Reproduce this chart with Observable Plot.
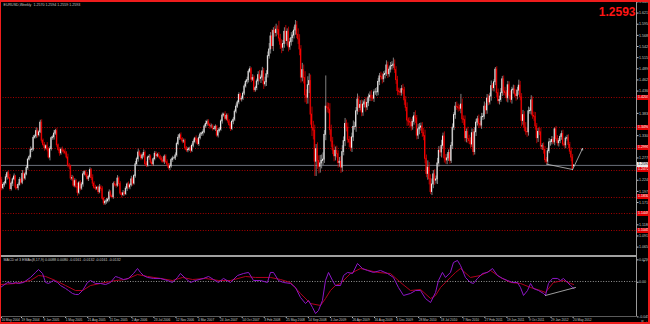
<!DOCTYPE html>
<html><head><meta charset="utf-8">
<script src="https://cdn.jsdelivr.net/npm/d3@7"></script>
<script src="https://cdn.jsdelivr.net/npm/@observablehq/plot@0.6"></script>
<style>
html,body{margin:0;padding:0;background:#000;}
#wrap{position:relative;width:650px;height:324px;background:#000;overflow:hidden;font-family:"Liberation Sans",Arial,sans-serif;}
#main{position:absolute;left:0;top:0;}
#macd{position:absolute;left:0;top:256px;}
.frame{position:absolute;left:0;top:0;width:650px;height:324px;box-sizing:border-box;border-style:solid;border-color:#ee1c1c;border-width:2px 2px 2px 1.5px;pointer-events:none;}
.sep{position:absolute;background:#a0a0a0;}
.box{position:absolute;left:637px;width:12px;height:5px;font-size:3.6px;line-height:5px;padding-left:1px;box-sizing:border-box;white-space:nowrap;}
</style></head>
<body>
<div id="wrap">
  <div id="main"></div>
  <div id="macd"></div>
  <div class="sep" style="left:0;top:255px;width:637px;height:1.6px;"></div>
  <div class="sep" style="left:636px;top:0;width:1px;height:316px;background:#9a9a9a;"></div>
  <div class="sep" style="left:0;top:316px;width:637px;height:1px;background:#5a5a5a;"></div>
  <div class="frame"></div>
</div>
<script>
// ---------- DATA ----------
const headerText = "EURUSD,Weekly  1.2570 1.2594 1.2559 1.2593";
const currentOHLC = [1.2570, 1.2594, 1.2559, 1.2593];
const bidText = "1.2593";
const macdTitle = "MACD of 3 EMAs(8,17,9) 0.0088 0.0080 -0.0161 -0.0132 -0.0161 -0.0132";
const firstOpen = 1.1990;

const c2004 = [1.2010,1.2190,1.2170,1.2240,1.2050,1.2130,1.2170,1.2310,1.2410,1.2290,1.2030,1.2160,1.2260,1.2330,1.2060,1.2050,1.2130,1.2250,1.2180,1.2390,1.2280,1.2380,1.2530,1.2730,1.2790,1.2960,1.2970,1.3250,1.3280,1.3410,1.3310,1.3380,1.3610];
const c2005 = [1.3180,1.3080,1.3000,1.3050,1.2970,1.2780,1.2980,1.3240,1.3260,1.3350,1.3410,1.3070,1.2960,1.2880,1.2960,1.2940,1.2920,1.2880,1.2780,1.2590,1.2570,1.2280,1.2290,1.2110,1.2220,1.2080,1.1940,1.2170,1.2040,1.2140,1.2380,1.2430,1.2360,1.2270,1.2320,1.2480,1.2290,1.2160,1.2060,1.2040,1.2060,1.1960,1.2070,1.2030,1.1800,1.1690,1.1730,1.1740,1.1780,1.1950,1.1860,1.1840];
const c2006 = [1.2150,1.2120,1.2110,1.2280,1.2150,1.1920,1.1890,1.1930,1.1910,1.2040,1.2140,1.2070,1.2120,1.2260,1.2160,1.2340,1.2620,1.2740,1.2900,1.2830,1.2760,1.2830,1.2890,1.2620,1.2590,1.2780,1.2800,1.2660,1.2620,1.2740,1.2870,1.2810,1.2840,1.2800,1.2750,1.2710,1.2680,1.2800,1.2670,1.2610,1.2530,1.2570,1.2720,1.2760,1.2760,1.2830,1.3100,1.3250,1.3310,1.3220,1.3160,1.3170,1.3000];
const c2007 = [1.2950,1.2960,1.2990,1.2940,1.3060,1.3150,1.3230,1.3190,1.3100,1.3240,1.3330,1.3350,1.3380,1.3520,1.3580,1.3630,1.3560,1.3520,1.3520,1.3460,1.3460,1.3510,1.3300,1.3410,1.3440,1.3640,1.3780,1.3800,1.3700,1.3770,1.3640,1.3550,1.3460,1.3630,1.3680,1.3870,1.3990,1.4090,1.4270,1.4160,1.4180,1.4300,1.4470,1.4580,1.4620,1.4820,1.4880,1.4630,1.4670,1.4380,1.4430,1.4590];
const c2008 = [1.4740,1.4650,1.4680,1.4830,1.4520,1.4570,1.4760,1.5190,1.5350,1.5660,1.5430,1.5790,1.5740,1.5820,1.5810,1.5610,1.5460,1.5390,1.5480,1.5770,1.5550,1.5770,1.5400,1.5520,1.5620,1.5680,1.5800,1.5920,1.5700,1.5590,1.5350,1.4680,1.4860,1.4670,1.4260,1.4200,1.4500,1.4600,1.3800,1.3480,1.3420,1.2680,1.2980,1.2700,1.2560,1.2640,1.2700,1.2730,1.3320,1.3990,1.3960,1.3920];
const c2009 = [1.3430,1.3160,1.2950,1.2810,1.2940,1.2860,1.2650,1.2680,1.2540,1.2910,1.3170,1.3580,1.3490,1.3200,1.3140,1.3010,1.3260,1.3510,1.3510,1.3880,1.4160,1.3960,1.4030,1.3850,1.4040,1.4090,1.3970,1.4080,1.4210,1.4250,1.4190,1.4180,1.4330,1.4330,1.4330,1.4580,1.4710,1.4690,1.4640,1.4740,1.4770,1.4970,1.4760,1.4870,1.4950,1.4960,1.4990,1.4860,1.4620,1.4360,1.4340,1.4320];
const c2010 = [1.4410,1.4380,1.4140,1.3960,1.3660,1.3630,1.3610,1.3520,1.3630,1.3760,1.3710,1.3300,1.3450,1.3490,1.3520,1.3360,1.3290,1.2750,1.2390,1.2540,1.2270,1.1960,1.2140,1.2380,1.2230,1.2260,1.2640,1.2940,1.2900,1.3060,1.3280,1.2760,1.2710,1.2760,1.2890,1.2700,1.3060,1.3490,1.3790,1.3990,1.3980,1.3950,1.3940,1.4040,1.3690,1.3670,1.3240,1.3390,1.3220,1.3170,1.3090,1.3360];
const c2011 = [1.2910,1.3380,1.3610,1.3690,1.3580,1.3540,1.3740,1.3750,1.3990,1.3900,1.4180,1.4090,1.4230,1.4480,1.4430,1.4570,1.4870,1.4310,1.4120,1.4150,1.4310,1.4640,1.4350,1.4310,1.4190,1.4500,1.4250,1.4150,1.4380,1.4400,1.4280,1.4240,1.4370,1.4490,1.4210,1.3650,1.3790,1.3490,1.3390,1.3380,1.3880,1.3890,1.4140,1.3770,1.3750,1.3520,1.3240,1.3390,1.3380,1.3040,1.3050,1.2960];
const c2012 = [1.2720,1.2680,1.2930,1.3140,1.3150,1.3200,1.3140,1.3450,1.3220,1.3120,1.3170,1.3270,1.3340,1.3090,1.3070,1.3230,1.3240,1.3080,1.2920,1.2780,1.2510,1.2593];

// wick lengths above / below the body, in pips
const wickUp = [
60,45,80,35,70,50,40,65,30,55,90,40,35,60,25,70,45,55,30,80,50,40,65,35,45,70,30,55,40,75,60,45,57,
70,40,55,30,85,45,60,35,50,75,40,65,30,55,45,70,35,60,40,80,50,30,65,45,55,35,90,40,60,50,70,30,45,65,40,55,35,80,45,60,30,50,70,40,55,35,45,65,30,60,40,50,
45,60,35,70,40,55,30,65,45,50,35,60,40,75,50,35,65,45,80,40,55,30,70,45,60,35,50,40,65,30,55,45,40,60,35,50,70,40,45,55,30,65,40,50,35,60,45,70,40,55,35,50,45,
40,55,35,60,45,50,30,65,40,55,45,35,60,40,70,45,50,35,55,40,65,45,30,60,50,40,55,35,70,45,50,40,60,35,55,45,65,40,50,35,60,45,55,40,70,45,60,35,80,50,45,55,
80,110,60,95,70,120,85,100,140,90,160,75,110,130,90,209,100,120,80,95,150,70,110,90,130,100,80,118,95,140,110,90,160,120,150,130,200,170,140,180,160,130,110,150,120,190,140,160,100,730,90,110,
140,120,100,130,90,110,80,100,120,150,100,130,90,110,80,120,100,140,110,90,130,80,100,120,90,70,110,100,80,90,120,70,60,90,110,80,70,100,90,80,70,110,80,60,90,100,154,110,80,90,70,60,
80,110,70,90,120,60,100,80,110,90,130,70,120,100,80,90,110,140,90,160,120,100,130,90,110,80,120,100,90,130,80,110,90,100,70,120,80,90,60,100,110,70,70,242,130,80,100,70,110,90,80,100,
90,110,80,70,100,60,90,80,110,70,100,90,80,120,60,60,50,70,100,90,110,70,80,100,60,90,80,110,70,100,90,120,80,130,100,90,110,80,120,90,100,70,110,80,90,100,70,80,110,90,60,80,
80,60,70,90,50,80,60,36,70,80,60,50,70,90,60,40,70,80,60,90,70,1];
const wickDn = [
50,40,70,45,60,35,55,40,65,30,50,45,70,35,55,40,60,30,50,45,65,40,35,55,30,45,60,40,35,50,65,40,30,
60,45,70,40,55,35,80,45,50,65,40,55,35,70,45,50,60,40,35,55,70,45,60,40,50,35,80,45,55,40,65,35,50,45,60,40,55,70,35,50,45,60,40,55,35,50,45,60,40,55,35,45,
50,40,60,35,55,45,70,40,50,35,65,45,55,40,60,35,50,45,70,40,55,35,60,45,50,40,65,35,55,45,40,60,35,50,45,55,40,65,35,50,45,60,40,55,35,50,45,40,60,35,55,45,50,
45,55,35,60,40,50,45,65,35,55,40,50,60,35,45,55,40,70,45,50,35,60,40,55,45,35,65,40,50,45,55,35,60,40,70,45,50,40,55,35,60,45,50,40,55,65,45,70,40,55,45,60,
90,70,110,80,120,60,100,90,70,110,80,130,100,90,120,80,110,140,90,100,80,120,110,70,90,100,80,110,90,120,150,130,100,140,180,160,150,200,250,200,220,350,350,200,170,150,130,110,90,140,120,100,
120,140,100,130,110,90,120,100,140,110,90,130,100,80,120,90,110,100,80,130,90,110,70,100,90,80,110,70,90,100,80,60,90,70,100,80,90,70,110,80,90,60,100,70,80,90,60,80,100,110,90,80,
80,100,120,90,140,100,130,110,90,80,120,100,90,130,80,100,110,120,90,150,140,60,84,100,110,80,120,90,100,130,80,110,90,100,70,80,60,90,70,100,80,90,60,120,100,130,90,110,100,80,90,70,
90,70,100,80,110,60,90,80,70,100,90,80,60,110,70,90,80,100,70,90,60,80,100,70,90,110,80,70,100,90,80,120,90,110,80,140,100,90,80,120,90,70,100,80,110,90,130,100,80,70,90,100,
70,56,80,60,90,70,50,80,60,70,90,60,80,50,70,80,60,90,70,100,15,0];

const levels = [1.4207, 1.3494, 1.2995, 1.2472, 1.1830, 1.1449, 1.1045];
const bidPrice = 1.2593;
const priceTicks = [1.6480,1.6215,1.5950,1.5685,1.5420,1.5155,1.4890,1.4625,1.4360,1.4095,1.3830,1.3565,1.3300,1.3035,1.2770,1.2505,1.2240,1.1975,1.1710,1.1445,1.1180,1.0915,1.0650];

const trendWeeks = [399, 418];
const trendPrices = [1.2624, 1.2495];
const projWeeks = [418, 425.2];
const projPrices = [1.2495, 1.2995];

const macdWeeks = [3.1,8.2,11.8,14.0,16.2,19.8,24.9,28.5,30.7,33.6,35.8,37.9,41.6,44.5,46.6,50.3,52.4,55.3,57.5,59.7,62.6,66.2,68.4,72.0,75.6,79.3,82.9,86.5,88.7,92.3,95.9,99.6,102.5,104.6,106.8,109.7,114.1,119.1,124.2,127.8,131.5,133.6,137.3,140.9,144.5,150.3,154.0,157.6,161.2,164.8,169.9,175.0,179.3,183.0,186.6,191.7,196.7,198.9,201.1,204.7,208.3,213.4,217.0,220.7,224.3,226.5,229.4,231.6,233.7,236.6,238.8,241.0,243.9,246.0,249.7,251.9,254.8,258.4,262.0,265.6,269.3,273.6,278.7,283.8,288.1,291.7,295.4,300.4,304.1,307.7,311.3,315.0,318.6,320.7,323.6,325.8,329.4,331.6,334.5,336.7,340.3,343.9,346.1,349.0,352.6,356.3,359.9,363.5,367.2,370.8,374.4,378.0,380.2,382.4,385.3,387.5,389.6,393.3,396.9,398.3,400.5,403.4,407.0,409.2,411.4,414.3,416.5,418.0,419];
const macdValues = [-0.0079,-0.0013,-0.0026,-0.0013,-0.0026,-0.0013,0.0053,0.0119,0.0158,0.0105,-0.0013,-0.0026,0.0013,-0.0013,-0.0053,-0.0092,-0.0119,-0.0158,-0.0171,-0.0171,-0.0119,-0.0013,0.0013,-0.0026,-0.0026,-0.0040,-0.0013,0.0066,0.0053,0.0026,0.0040,0.0105,0.0171,0.0119,0.0079,0.0053,0.0040,0.0040,0.0013,-0.0013,0.0053,0.0105,0.0040,-0.0013,0.0013,0.0040,0.0066,0.0026,-0.0013,0.0040,-0.0013,0.0079,0.0105,0.0119,0.0013,0.0013,-0.0013,0.0119,0.0119,0.0013,-0.0013,-0.0026,-0.0079,-0.0211,-0.0290,-0.0250,-0.0343,-0.0422,-0.0382,-0.0250,0.0013,0.0119,0.0013,-0.0053,-0.0053,0.0079,0.0119,0.0105,0.0237,0.0171,0.0145,0.0119,0.0145,0.0105,0.0053,-0.0079,-0.0184,-0.0158,-0.0119,-0.0119,-0.0224,-0.0277,-0.0145,0.0013,0.0119,0.0053,0.0119,0.0250,0.0277,0.0211,0.0053,-0.0013,-0.0026,0.0040,0.0105,0.0119,0.0171,0.0079,0.0040,0.0013,-0.0013,-0.0013,-0.0079,-0.0184,-0.0119,-0.0026,-0.0092,-0.0119,-0.0158,-0.0184,-0.0026,0.0040,0.0040,0.0013,0.0040,-0.0013,-0.0053,-0.0079,-0.0092];
const signalWeeks = [3.1,14.0,24.9,30.7,35.8,43.0,50.3,57.5,62.6,68.4,75.6,86.5,93.8,102.5,109.7,119.1,127.8,135.1,142.4,151.8,161.2,169.9,180.8,188.0,198.9,206.2,213.4,220.7,227.9,235.2,238.8,242.4,246.0,249.7,256.9,264.2,276.5,285.9,293.2,300.4,307.7,315.0,318.6,322.2,325.8,329.4,333.1,336.7,343.9,351.2,358.5,365.7,373.0,380.2,387.5,394.7,398.3,404.1,411.4,416.5,418.7];
const signalValues = [-0.0040,-0.0026,0.0013,0.0079,0.0066,0.0013,-0.0053,-0.0119,-0.0119,-0.0053,-0.0026,0.0013,0.0026,0.0092,0.0066,0.0040,0.0013,0.0053,0.0026,0.0040,0.0013,0.0013,0.0066,0.0053,0.0053,0.0026,-0.0013,-0.0158,-0.0290,-0.0316,-0.0224,-0.0119,-0.0053,-0.0026,0.0105,0.0171,0.0119,0.0105,-0.0013,-0.0119,-0.0105,-0.0224,-0.0184,-0.0079,-0.0013,0.0053,0.0119,0.0171,0.0053,0.0079,0.0145,0.0053,-0.0013,-0.0026,-0.0079,-0.0119,-0.0145,-0.0013,0.0013,-0.0026,-0.0040];
const macdTrendWeeks = [398.3, 420.1];
const macdTrendValues = [-0.0184, -0.0079];
const macdTicks = [0.0295, 0, -0.0456];
const macdTickLabels = ["0.0295", "0.00", "-0.0456"];

const dateTickWeeks = [0,18,34,50,66,82,98,114,130,146,162,178,194,210,226,242,258,274,290,306,322,338,354,370,386,402,418];
const dateLabels = ["16 May 2004","19 Sep 2004","9 Jan 2005","1 May 2005","21 Aug 2005","11 Dec 2005","2 Apr 2006","23 Jul 2006","12 Nov 2006","4 Mar 2007","24 Jun 2007","14 Oct 2007","3 Feb 2008","25 May 2008","14 Sep 2008","4 Jan 2009","26 Apr 2009","16 Aug 2009","6 Dec 2009","28 Mar 2010","18 Jul 2010","7 Nov 2010","27 Feb 2011","19 Jun 2011","9 Oct 2011","29 Jan 2012","20 May 2012"];

// ---------- BUILD ----------
const FONT = '"Liberation Sans", Arial, sans-serif';
const closes = [...c2004, ...c2005, ...c2006, ...c2007, ...c2008, ...c2009, ...c2010, ...c2011, ...c2012];
const last = closes.length - 1;
const bars = closes.map((c, i) => {
  if (i === last) {
    const [o, h, l, cl] = currentOHLC;
    return {i, o, c: cl, hi: h, lo: l, up: cl >= o};
  }
  const o = i === 0 ? firstOpen : closes[i - 1];
  return {i, o, c, hi: Math.max(o, c) + (wickUp[i] ?? 50) / 10000, lo: Math.min(o, c) - (wickDn[i] ?? 50) / 10000, up: c >= o};
});
const xDomain = [3.118, 464.33];
const yDomain = [1.0427, 1.6514];
const style = {background: "transparent", color: "#c8c8c8", fontFamily: FONT};

// the axis labels that sit under a price box are hidden by that box, as in the terminal
const boxed = [...levels, bidPrice];
const pxPerUnit = 256 / (yDomain[1] - yDomain[0]);
const visibleTicks = priceTicks.filter(t => boxed.every(b => Math.abs(t - b) * pxPerUnit > 5));

const trend = trendWeeks.map((w, k) => ({w, p: trendPrices[k]}));
const proj = [{x1: projWeeks[0], y1: projPrices[0], x2: projWeeks[1], y2: projPrices[1]}];

const main = Plot.plot({
  width: 650, height: 256, marginTop: 0, marginBottom: 0, marginLeft: 0, marginRight: 14,
  style,
  x: {domain: xDomain, axis: null},
  y: {domain: yDomain, axis: null},
  marks: [
    Plot.ruleY(levels, {stroke: "#a80000", strokeWidth: 1, strokeDasharray: "1,1.6"}),
    Plot.ruleY([bidPrice], {stroke: "#6a6f7a", strokeWidth: 1}),
    Plot.ruleX(bars, {x: "i", y1: "lo", y2: "hi", stroke: d => d.up ? "#a0a0a0" : "#d80000", strokeWidth: 0.8}),
    Plot.rect(bars, {x1: d => d.i - 0.37, x2: d => d.i + 0.37, y1: "o", y2: "c", fill: d => d.up ? "#f0f0f0" : "#ff0000", insetTop: -0.4, insetBottom: -0.4}),
    Plot.line(trend, {x: "w", y: "p", stroke: "#c4c4c4", strokeWidth: 0.8}),
    Plot.arrow(proj, {x1: "x1", y1: "y1", x2: "x2", y2: "y2", stroke: "#c4c4c4", strokeWidth: 0.8, headLength: 3}),
    Plot.axisY(visibleTicks, {anchor: "right", tickSize: 1.5, tickPadding: 1, fontSize: 3.6, tickFormat: d => d.toFixed(4)}),
    Plot.text([headerText], {text: d => d, frameAnchor: "top-left", dx: 3, dy: 3.3, fontSize: 3.6, fill: "#c8c8c8"}),
    Plot.text([bidText], {text: d => d, frameAnchor: "top-right", dx: -1, dy: 6.5, fontSize: 12, fontWeight: "bold", fill: "#ff1414"})
  ]
});
document.getElementById("main").appendChild(main);

const macdPts = macdWeeks.map((w, k) => ({w, v: macdValues[k]}));
const sigPts = signalWeeks.map((w, k) => ({w, v: signalValues[k]}));
const mTrend = macdTrendWeeks.map((w, k) => ({w, v: macdTrendValues[k]}));
const tickPos = dateTickWeeks.map(w => Math.max(w, xDomain[0] + 0.3));
const labelAt = new Map(tickPos.map((p, k) => [p, dateLabels[k]]));

const macd = Plot.plot({
  width: 650, height: 68, marginTop: 0, marginBottom: 8, marginLeft: 0, marginRight: 14,
  style,
  x: {domain: xDomain, axis: null},
  y: {domain: [-0.0461, 0.0329], axis: null},
  marks: [
    Plot.ruleY([0], {stroke: "#bdbdbd", strokeWidth: 0.8, strokeDasharray: "1,1.6"}),
    Plot.line(sigPts, {x: "w", y: "v", stroke: "#b0001e", strokeWidth: 1}),
    Plot.line(macdPts, {x: "w", y: "v", stroke: "#8e16c8", strokeWidth: 1}),
    Plot.line(mTrend, {x: "w", y: "v", stroke: "#c4c4c4", strokeWidth: 0.8}),
    Plot.axisY(macdTicks, {anchor: "right", tickSize: 1.5, tickPadding: 1, fontSize: 3.6, dy: 0.8, tickFormat: d => macdTickLabels[macdTicks.indexOf(d)]}),
    Plot.axisX(tickPos, {anchor: "bottom", tickSize: 2, tickPadding: 0.5, fontSize: 3.2, textAnchor: "start", dx: 0.5, tickFormat: d => labelAt.get(d)}),
    Plot.text([macdTitle], {text: d => d, frameAnchor: "top-left", dx: 3, dy: 1.5, fontSize: 3.6, fill: "#c8c8c8"})
  ]
});
document.getElementById("macd").appendChild(macd);

// price-label boxes on the right axis, placed with Plot's own y scale
const ys = main.scale("y");
const yf = ys.apply ? (v => ys.apply(v)) : d3.scaleLinear(ys.domain, ys.range);
const wrap = document.getElementById("wrap");
function addBox(p, bg, fg) {
  const b = document.createElement("div");
  b.className = "box";
  b.style.top = (yf(p) - 2.5) + "px";
  b.style.background = bg;
  b.style.color = fg;
  b.textContent = p.toFixed(4);
  wrap.insertBefore(b, wrap.querySelector(".frame"));
}
levels.forEach(p => addBox(p, "#e00000", "#ffffff"));
addBox(bidPrice, "#e8e8e8", "#000000");
</script>
</body></html>
